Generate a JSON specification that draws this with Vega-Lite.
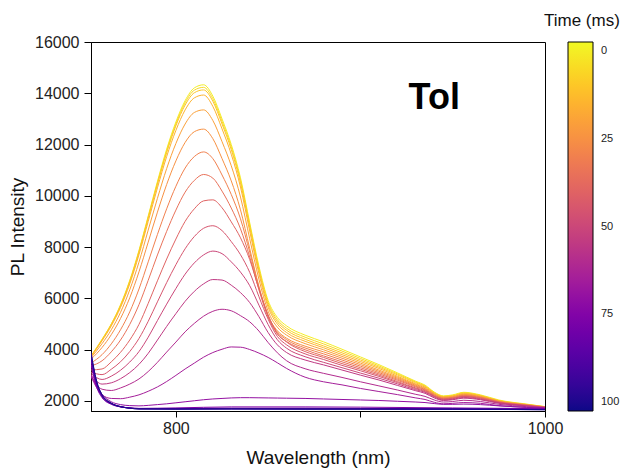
{
"$schema": "https://vega.github.io/schema/vega-lite/v6.json",
"width": 454, "height": 369,
"autosize": {"type": "none"},
"padding": {"left": 91, "top": 42, "right": 82, "bottom": 59},
"background": "white",
"config": {"font": "Liberation Sans", "view": {"stroke": "black", "strokeWidth": 1}},
"datasets": {
"curves": [
{"t":0,"w":754,"v":3750},{"t":0,"w":760,"v":4400},{"t":0,"w":765,"v":5000},{"t":0,"w":770,"v":5750},{"t":0,"w":775,"v":6700},{"t":0,"w":780,"v":7870},{"t":0,"w":785,"v":9210},{"t":0,"w":790,"v":10560},{"t":0,"w":795,"v":11820},{"t":0,"w":800,"v":12880},{"t":0,"w":805,"v":13710},{"t":0,"w":810,"v":14210},{"t":0,"w":815,"v":14330},{"t":0,"w":820,"v":13890},{"t":0,"w":825,"v":13000},{"t":0,"w":830,"v":12000},{"t":0,"w":835,"v":10700},{"t":0,"w":840,"v":8950},{"t":0,"w":845,"v":7250},{"t":0,"w":850,"v":5910},{"t":0,"w":855,"v":5250},{"t":0,"w":860,"v":4920},{"t":0,"w":870,"v":4560},{"t":0,"w":880,"v":4300},{"t":0,"w":890,"v":4010},{"t":0,"w":900,"v":3710},{"t":0,"w":910,"v":3410},{"t":0,"w":920,"v":3090},{"t":0,"w":930,"v":2760},{"t":0,"w":935,"v":2610},{"t":0,"w":940,"v":2340},{"t":0,"w":945,"v":2190},{"t":0,"w":950,"v":2230},{"t":0,"w":956,"v":2330},{"t":0,"w":965,"v":2230},{"t":0,"w":975,"v":2030},{"t":0,"w":990,"v":1870},{"t":0,"w":1000,"v":1770},
{"t":5,"w":754,"v":3740},{"t":5,"w":760,"v":4390},{"t":5,"w":765,"v":4990},{"t":5,"w":770,"v":5720},{"t":5,"w":775,"v":6670},{"t":5,"w":780,"v":7830},{"t":5,"w":785,"v":9170},{"t":5,"w":790,"v":10500},{"t":5,"w":795,"v":11750},{"t":5,"w":800,"v":12800},{"t":5,"w":805,"v":13630},{"t":5,"w":810,"v":14120},{"t":5,"w":815,"v":14230},{"t":5,"w":820,"v":13790},{"t":5,"w":825,"v":12900},{"t":5,"w":830,"v":11900},{"t":5,"w":835,"v":10600},{"t":5,"w":840,"v":8860},{"t":5,"w":845,"v":7160},{"t":5,"w":850,"v":5830},{"t":5,"w":855,"v":5160},{"t":5,"w":860,"v":4830},{"t":5,"w":870,"v":4480},{"t":5,"w":880,"v":4220},{"t":5,"w":890,"v":3940},{"t":5,"w":900,"v":3650},{"t":5,"w":910,"v":3360},{"t":5,"w":920,"v":3050},{"t":5,"w":930,"v":2730},{"t":5,"w":935,"v":2580},{"t":5,"w":940,"v":2320},{"t":5,"w":945,"v":2170},{"t":5,"w":950,"v":2210},{"t":5,"w":956,"v":2310},{"t":5,"w":965,"v":2210},{"t":5,"w":975,"v":2010},{"t":5,"w":990,"v":1860},{"t":5,"w":1000,"v":1770},
{"t":10,"w":754,"v":3730},{"t":10,"w":760,"v":4370},{"t":10,"w":765,"v":4970},{"t":10,"w":770,"v":5700},{"t":10,"w":775,"v":6640},{"t":10,"w":780,"v":7800},{"t":10,"w":785,"v":9120},{"t":10,"w":790,"v":10450},{"t":10,"w":795,"v":11680},{"t":10,"w":800,"v":12730},{"t":10,"w":805,"v":13540},{"t":10,"w":810,"v":14020},{"t":10,"w":815,"v":14130},{"t":10,"w":820,"v":13690},{"t":10,"w":825,"v":12800},{"t":10,"w":830,"v":11800},{"t":10,"w":835,"v":10500},{"t":10,"w":840,"v":8770},{"t":10,"w":845,"v":7080},{"t":10,"w":850,"v":5750},{"t":10,"w":855,"v":5080},{"t":10,"w":860,"v":4750},{"t":10,"w":870,"v":4400},{"t":10,"w":880,"v":4140},{"t":10,"w":890,"v":3870},{"t":10,"w":900,"v":3590},{"t":10,"w":910,"v":3310},{"t":10,"w":920,"v":3010},{"t":10,"w":930,"v":2700},{"t":10,"w":935,"v":2560},{"t":10,"w":940,"v":2300},{"t":10,"w":945,"v":2160},{"t":10,"w":950,"v":2190},{"t":10,"w":956,"v":2290},{"t":10,"w":965,"v":2200},{"t":10,"w":975,"v":2000},{"t":10,"w":990,"v":1850},{"t":10,"w":1000,"v":1760},
{"t":15,"w":754,"v":3730},{"t":15,"w":760,"v":4340},{"t":15,"w":765,"v":4920},{"t":15,"w":770,"v":5640},{"t":15,"w":775,"v":6560},{"t":15,"w":780,"v":7700},{"t":15,"w":785,"v":9000},{"t":15,"w":790,"v":10310},{"t":15,"w":795,"v":11530},{"t":15,"w":800,"v":12550},{"t":15,"w":805,"v":13350},{"t":15,"w":810,"v":13820},{"t":15,"w":815,"v":13930},{"t":15,"w":820,"v":13490},{"t":15,"w":825,"v":12610},{"t":15,"w":830,"v":11620},{"t":15,"w":835,"v":10340},{"t":15,"w":840,"v":8620},{"t":15,"w":845,"v":6960},{"t":15,"w":850,"v":5650},{"t":15,"w":855,"v":4990},{"t":15,"w":860,"v":4660},{"t":15,"w":870,"v":4320},{"t":15,"w":880,"v":4070},{"t":15,"w":890,"v":3800},{"t":15,"w":900,"v":3530},{"t":15,"w":910,"v":3260},{"t":15,"w":920,"v":2960},{"t":15,"w":930,"v":2660},{"t":15,"w":935,"v":2530},{"t":15,"w":940,"v":2280},{"t":15,"w":945,"v":2140},{"t":15,"w":950,"v":2180},{"t":15,"w":956,"v":2270},{"t":15,"w":965,"v":2180},{"t":15,"w":975,"v":1990},{"t":15,"w":990,"v":1850},{"t":15,"w":1000,"v":1760},
{"t":20,"w":754,"v":3680},{"t":20,"w":760,"v":4230},{"t":20,"w":765,"v":4770},{"t":20,"w":770,"v":5450},{"t":20,"w":775,"v":6330},{"t":20,"w":780,"v":7410},{"t":20,"w":785,"v":8660},{"t":20,"w":790,"v":9900},{"t":20,"w":795,"v":11060},{"t":20,"w":800,"v":12040},{"t":20,"w":805,"v":12800},{"t":20,"w":810,"v":13250},{"t":20,"w":815,"v":13350},{"t":20,"w":820,"v":12940},{"t":20,"w":825,"v":12110},{"t":20,"w":830,"v":11170},{"t":20,"w":835,"v":9950},{"t":20,"w":840,"v":8320},{"t":20,"w":845,"v":6740},{"t":20,"w":850,"v":5490},{"t":20,"w":855,"v":4870},{"t":20,"w":860,"v":4560},{"t":20,"w":870,"v":4230},{"t":20,"w":880,"v":3990},{"t":20,"w":890,"v":3730},{"t":20,"w":900,"v":3470},{"t":20,"w":910,"v":3200},{"t":20,"w":920,"v":2920},{"t":20,"w":930,"v":2630},{"t":20,"w":935,"v":2500},{"t":20,"w":940,"v":2260},{"t":20,"w":945,"v":2130},{"t":20,"w":950,"v":2160},{"t":20,"w":956,"v":2250},{"t":20,"w":965,"v":2160},{"t":20,"w":975,"v":1980},{"t":20,"w":990,"v":1840},{"t":20,"w":1000,"v":1760},
{"t":25,"w":754,"v":3620},{"t":25,"w":760,"v":4080},{"t":25,"w":765,"v":4580},{"t":25,"w":770,"v":5210},{"t":25,"w":775,"v":6020},{"t":25,"w":780,"v":7030},{"t":25,"w":785,"v":8190},{"t":25,"w":790,"v":9360},{"t":25,"w":795,"v":10440},{"t":25,"w":800,"v":11360},{"t":25,"w":805,"v":12080},{"t":25,"w":810,"v":12500},{"t":25,"w":815,"v":12600},{"t":25,"w":820,"v":12230},{"t":25,"w":825,"v":11450},{"t":25,"w":830,"v":10580},{"t":25,"w":835,"v":9450},{"t":25,"w":840,"v":7940},{"t":25,"w":845,"v":6460},{"t":25,"w":850,"v":5310},{"t":25,"w":855,"v":4730},{"t":25,"w":860,"v":4440},{"t":25,"w":870,"v":4130},{"t":25,"w":880,"v":3910},{"t":25,"w":890,"v":3660},{"t":25,"w":900,"v":3410},{"t":25,"w":910,"v":3150},{"t":25,"w":920,"v":2880},{"t":25,"w":930,"v":2600},{"t":25,"w":935,"v":2470},{"t":25,"w":940,"v":2240},{"t":25,"w":945,"v":2110},{"t":25,"w":950,"v":2140},{"t":25,"w":956,"v":2230},{"t":25,"w":965,"v":2150},{"t":25,"w":975,"v":1970},{"t":25,"w":990,"v":1840},{"t":25,"w":1000,"v":1750},
{"t":30,"w":754,"v":3470},{"t":30,"w":760,"v":3800},{"t":30,"w":765,"v":4220},{"t":30,"w":770,"v":4770},{"t":30,"w":775,"v":5470},{"t":30,"w":780,"v":6360},{"t":30,"w":785,"v":7420},{"t":30,"w":790,"v":8490},{"t":30,"w":795,"v":9490},{"t":30,"w":800,"v":10370},{"t":30,"w":805,"v":11080},{"t":30,"w":810,"v":11530},{"t":30,"w":815,"v":11710},{"t":30,"w":820,"v":11450},{"t":30,"w":825,"v":10810},{"t":30,"w":830,"v":10050},{"t":30,"w":835,"v":9100},{"t":30,"w":840,"v":7800},{"t":30,"w":845,"v":6420},{"t":30,"w":850,"v":5290},{"t":30,"w":855,"v":4680},{"t":30,"w":860,"v":4380},{"t":30,"w":870,"v":4060},{"t":30,"w":880,"v":3830},{"t":30,"w":890,"v":3590},{"t":30,"w":900,"v":3350},{"t":30,"w":910,"v":3100},{"t":30,"w":920,"v":2840},{"t":30,"w":930,"v":2570},{"t":30,"w":935,"v":2440},{"t":30,"w":940,"v":2220},{"t":30,"w":945,"v":2100},{"t":30,"w":950,"v":2130},{"t":30,"w":956,"v":2210},{"t":30,"w":965,"v":2130},{"t":30,"w":975,"v":1960},{"t":30,"w":990,"v":1830},{"t":30,"w":1000,"v":1750},
{"t":35,"w":754,"v":3360},{"t":35,"w":760,"v":3560},{"t":35,"w":765,"v":3910},{"t":35,"w":770,"v":4370},{"t":35,"w":775,"v":4980},{"t":35,"w":780,"v":5750},{"t":35,"w":785,"v":6700},{"t":35,"w":790,"v":7690},{"t":35,"w":795,"v":8610},{"t":35,"w":800,"v":9440},{"t":35,"w":805,"v":10140},{"t":35,"w":810,"v":10600},{"t":35,"w":815,"v":10830},{"t":35,"w":820,"v":10690},{"t":35,"w":825,"v":10180},{"t":35,"w":830,"v":9520},{"t":35,"w":835,"v":8710},{"t":35,"w":840,"v":7610},{"t":35,"w":845,"v":6330},{"t":35,"w":850,"v":5260},{"t":35,"w":855,"v":4600},{"t":35,"w":860,"v":4310},{"t":35,"w":870,"v":3990},{"t":35,"w":880,"v":3750},{"t":35,"w":890,"v":3520},{"t":35,"w":900,"v":3290},{"t":35,"w":910,"v":3050},{"t":35,"w":920,"v":2800},{"t":35,"w":930,"v":2540},{"t":35,"w":935,"v":2420},{"t":35,"w":940,"v":2200},{"t":35,"w":945,"v":2080},{"t":35,"w":950,"v":2110},{"t":35,"w":956,"v":2190},{"t":35,"w":965,"v":2120},{"t":35,"w":975,"v":1950},{"t":35,"w":990,"v":1820},{"t":35,"w":1000,"v":1750},
{"t":40,"w":754,"v":3200},{"t":40,"w":760,"v":3240},{"t":40,"w":765,"v":3520},{"t":40,"w":770,"v":3890},{"t":40,"w":775,"v":4370},{"t":40,"w":780,"v":4980},{"t":40,"w":785,"v":5800},{"t":40,"w":790,"v":6680},{"t":40,"w":795,"v":7530},{"t":40,"w":800,"v":8310},{"t":40,"w":805,"v":9000},{"t":40,"w":810,"v":9490},{"t":40,"w":815,"v":9800},{"t":40,"w":820,"v":9840},{"t":40,"w":825,"v":9530},{"t":40,"w":830,"v":8980},{"t":40,"w":835,"v":8360},{"t":40,"w":840,"v":7510},{"t":40,"w":845,"v":6360},{"t":40,"w":850,"v":5350},{"t":40,"w":855,"v":4620},{"t":40,"w":860,"v":4290},{"t":40,"w":870,"v":3920},{"t":40,"w":880,"v":3690},{"t":40,"w":890,"v":3450},{"t":40,"w":900,"v":3230},{"t":40,"w":910,"v":3000},{"t":40,"w":920,"v":2750},{"t":40,"w":930,"v":2500},{"t":40,"w":935,"v":2390},{"t":40,"w":940,"v":2180},{"t":40,"w":945,"v":2070},{"t":40,"w":950,"v":2100},{"t":40,"w":956,"v":2170},{"t":40,"w":965,"v":2100},{"t":40,"w":975,"v":1940},{"t":40,"w":990,"v":1820},{"t":40,"w":1000,"v":1740},
{"t":45,"w":754,"v":3120},{"t":45,"w":760,"v":3020},{"t":45,"w":765,"v":3230},{"t":45,"w":770,"v":3520},{"t":45,"w":775,"v":3920},{"t":45,"w":780,"v":4430},{"t":45,"w":785,"v":5100},{"t":45,"w":790,"v":5860},{"t":45,"w":795,"v":6610},{"t":45,"w":800,"v":7310},{"t":45,"w":805,"v":7930},{"t":45,"w":810,"v":8410},{"t":45,"w":815,"v":8730},{"t":45,"w":820,"v":8830},{"t":45,"w":825,"v":8640},{"t":45,"w":830,"v":8210},{"t":45,"w":835,"v":7700},{"t":45,"w":840,"v":7010},{"t":45,"w":845,"v":6060},{"t":45,"w":850,"v":5180},{"t":45,"w":855,"v":4510},{"t":45,"w":860,"v":4180},{"t":45,"w":870,"v":3830},{"t":45,"w":880,"v":3610},{"t":45,"w":890,"v":3380},{"t":45,"w":900,"v":3170},{"t":45,"w":910,"v":2950},{"t":45,"w":920,"v":2710},{"t":45,"w":930,"v":2470},{"t":45,"w":935,"v":2360},{"t":45,"w":940,"v":2170},{"t":45,"w":945,"v":2050},{"t":45,"w":950,"v":2080},{"t":45,"w":956,"v":2160},{"t":45,"w":965,"v":2080},{"t":45,"w":975,"v":1930},{"t":45,"w":990,"v":1810},{"t":45,"w":1000,"v":1740},
{"t":50,"w":754,"v":3060},{"t":50,"w":760,"v":2830},{"t":50,"w":765,"v":2960},{"t":50,"w":770,"v":3190},{"t":50,"w":775,"v":3510},{"t":50,"w":780,"v":3920},{"t":50,"w":785,"v":4480},{"t":50,"w":790,"v":5130},{"t":50,"w":795,"v":5770},{"t":50,"w":800,"v":6380},{"t":50,"w":805,"v":6940},{"t":50,"w":810,"v":7380},{"t":50,"w":815,"v":7690},{"t":50,"w":820,"v":7840},{"t":50,"w":825,"v":7740},{"t":50,"w":830,"v":7420},{"t":50,"w":835,"v":7020},{"t":50,"w":840,"v":6490},{"t":50,"w":845,"v":5730},{"t":50,"w":850,"v":4970},{"t":50,"w":855,"v":4380},{"t":50,"w":860,"v":4050},{"t":50,"w":870,"v":3720},{"t":50,"w":880,"v":3500},{"t":50,"w":890,"v":3290},{"t":50,"w":900,"v":3080},{"t":50,"w":910,"v":2880},{"t":50,"w":920,"v":2660},{"t":50,"w":930,"v":2430},{"t":50,"w":935,"v":2330},{"t":50,"w":940,"v":2140},{"t":50,"w":945,"v":2030},{"t":50,"w":950,"v":2060},{"t":50,"w":956,"v":2130},{"t":50,"w":965,"v":2060},{"t":50,"w":975,"v":1920},{"t":50,"w":990,"v":1800},{"t":50,"w":1000,"v":1740},
{"t":55,"w":754,"v":3020},{"t":55,"w":760,"v":2650},{"t":55,"w":765,"v":2700},{"t":55,"w":770,"v":2860},{"t":55,"w":775,"v":3100},{"t":55,"w":780,"v":3420},{"t":55,"w":785,"v":3850},{"t":55,"w":790,"v":4370},{"t":55,"w":795,"v":4900},{"t":55,"w":800,"v":5400},{"t":55,"w":805,"v":5880},{"t":55,"w":810,"v":6270},{"t":55,"w":815,"v":6560},{"t":55,"w":820,"v":6730},{"t":55,"w":825,"v":6710},{"t":55,"w":830,"v":6510},{"t":55,"w":835,"v":6220},{"t":55,"w":840,"v":5830},{"t":55,"w":845,"v":5280},{"t":55,"w":850,"v":4660},{"t":55,"w":855,"v":4180},{"t":55,"w":860,"v":3880},{"t":55,"w":870,"v":3590},{"t":55,"w":880,"v":3400},{"t":55,"w":890,"v":3200},{"t":55,"w":900,"v":3000},{"t":55,"w":910,"v":2810},{"t":55,"w":920,"v":2600},{"t":55,"w":930,"v":2390},{"t":55,"w":935,"v":2290},{"t":55,"w":940,"v":2110},{"t":55,"w":945,"v":2010},{"t":55,"w":950,"v":2040},{"t":55,"w":956,"v":2100},{"t":55,"w":965,"v":2040},{"t":55,"w":975,"v":1900},{"t":55,"w":990,"v":1800},{"t":55,"w":1000,"v":1730},
{"t":60,"w":754,"v":2980},{"t":60,"w":760,"v":2450},{"t":60,"w":765,"v":2400},{"t":60,"w":770,"v":2500},{"t":60,"w":775,"v":2650},{"t":60,"w":780,"v":2850},{"t":60,"w":785,"v":3140},{"t":60,"w":790,"v":3500},{"t":60,"w":795,"v":3900},{"t":60,"w":800,"v":4290},{"t":60,"w":805,"v":4690},{"t":60,"w":810,"v":5020},{"t":60,"w":815,"v":5300},{"t":60,"w":820,"v":5490},{"t":60,"w":825,"v":5570},{"t":60,"w":830,"v":5510},{"t":60,"w":835,"v":5320},{"t":60,"w":840,"v":5080},{"t":60,"w":845,"v":4720},{"t":60,"w":850,"v":4270},{"t":60,"w":855,"v":3870},{"t":60,"w":860,"v":3560},{"t":60,"w":870,"v":3250},{"t":60,"w":880,"v":3070},{"t":60,"w":890,"v":2910},{"t":60,"w":900,"v":2740},{"t":60,"w":910,"v":2580},{"t":60,"w":920,"v":2420},{"t":60,"w":930,"v":2250},{"t":60,"w":935,"v":2170},{"t":60,"w":940,"v":2030},{"t":60,"w":945,"v":1950},{"t":60,"w":950,"v":1970},{"t":60,"w":956,"v":2020},{"t":60,"w":965,"v":1970},{"t":60,"w":975,"v":1860},{"t":60,"w":990,"v":1770},{"t":60,"w":1000,"v":1720},
{"t":65,"w":754,"v":2940},{"t":65,"w":760,"v":2230},{"t":65,"w":765,"v":2090},{"t":65,"w":770,"v":2080},{"t":65,"w":775,"v":2140},{"t":65,"w":780,"v":2230},{"t":65,"w":785,"v":2370},{"t":65,"w":790,"v":2540},{"t":65,"w":795,"v":2750},{"t":65,"w":800,"v":2990},{"t":65,"w":805,"v":3240},{"t":65,"w":810,"v":3470},{"t":65,"w":815,"v":3700},{"t":65,"w":820,"v":3880},{"t":65,"w":825,"v":4010},{"t":65,"w":830,"v":4100},{"t":65,"w":835,"v":4090},{"t":65,"w":840,"v":4000},{"t":65,"w":845,"v":3860},{"t":65,"w":850,"v":3690},{"t":65,"w":855,"v":3480},{"t":65,"w":860,"v":3260},{"t":65,"w":870,"v":2920},{"t":65,"w":880,"v":2740},{"t":65,"w":890,"v":2620},{"t":65,"w":900,"v":2480},{"t":65,"w":910,"v":2360},{"t":65,"w":920,"v":2240},{"t":65,"w":930,"v":2110},{"t":65,"w":935,"v":2050},{"t":65,"w":940,"v":1940},{"t":65,"w":945,"v":1880},{"t":65,"w":950,"v":1900},{"t":65,"w":956,"v":1930},{"t":65,"w":965,"v":1900},{"t":65,"w":975,"v":1810},{"t":65,"w":990,"v":1740},{"t":65,"w":1000,"v":1700},
{"t":70,"w":754,"v":2990},{"t":70,"w":760,"v":2250},{"t":70,"w":765,"v":1960},{"t":70,"w":770,"v":1850},{"t":70,"w":775,"v":1810},{"t":70,"w":780,"v":1800},{"t":70,"w":785,"v":1820},{"t":70,"w":790,"v":1850},{"t":70,"w":795,"v":1880},{"t":70,"w":800,"v":1920},{"t":70,"w":805,"v":1960},{"t":70,"w":810,"v":2000},{"t":70,"w":815,"v":2040},{"t":70,"w":820,"v":2070},{"t":70,"w":825,"v":2090},{"t":70,"w":830,"v":2110},{"t":70,"w":835,"v":2120},{"t":70,"w":840,"v":2120},{"t":70,"w":845,"v":2115},{"t":70,"w":850,"v":2110},{"t":70,"w":855,"v":2105},{"t":70,"w":860,"v":2100},{"t":70,"w":870,"v":2090},{"t":70,"w":880,"v":2070},{"t":70,"w":890,"v":2050},{"t":70,"w":900,"v":2030},{"t":70,"w":910,"v":2010},{"t":70,"w":920,"v":1980},{"t":70,"w":930,"v":1950},{"t":70,"w":935,"v":1930},{"t":70,"w":940,"v":1890},{"t":70,"w":945,"v":1860},{"t":70,"w":950,"v":1860},{"t":70,"w":956,"v":1870},{"t":70,"w":965,"v":1850},{"t":70,"w":975,"v":1800},{"t":70,"w":990,"v":1740},{"t":70,"w":1000,"v":1710},
{"t":75,"w":754,"v":3400},{"t":75,"w":757,"v":2540},{"t":75,"w":760,"v":2120},{"t":75,"w":765,"v":1860},{"t":75,"w":770,"v":1760},{"t":75,"w":775,"v":1720},{"t":75,"w":780,"v":1700},{"t":75,"w":800,"v":1720},{"t":75,"w":830,"v":1760},{"t":75,"w":870,"v":1760},{"t":75,"w":900,"v":1750},{"t":75,"w":950,"v":1720},{"t":75,"w":1000,"v":1690},
{"t":80,"w":754,"v":3540},{"t":80,"w":757,"v":2610},{"t":80,"w":760,"v":2150},{"t":80,"w":765,"v":1880},{"t":80,"w":770,"v":1760},{"t":80,"w":775,"v":1720},{"t":80,"w":780,"v":1700},{"t":80,"w":800,"v":1700},{"t":80,"w":830,"v":1710},{"t":80,"w":870,"v":1710},{"t":80,"w":900,"v":1700},{"t":80,"w":950,"v":1690},{"t":80,"w":1000,"v":1670},
{"t":85,"w":754,"v":3640},{"t":85,"w":757,"v":2660},{"t":85,"w":760,"v":2180},{"t":85,"w":765,"v":1890},{"t":85,"w":770,"v":1770},{"t":85,"w":775,"v":1720},{"t":85,"w":780,"v":1690},{"t":85,"w":800,"v":1690},{"t":85,"w":830,"v":1690},{"t":85,"w":870,"v":1690},{"t":85,"w":900,"v":1690},{"t":85,"w":950,"v":1680},{"t":85,"w":1000,"v":1660},
{"t":90,"w":754,"v":3740},{"t":90,"w":757,"v":2710},{"t":90,"w":760,"v":2200},{"t":90,"w":765,"v":1890},{"t":90,"w":770,"v":1770},{"t":90,"w":775,"v":1710},{"t":90,"w":780,"v":1690},{"t":90,"w":800,"v":1680},{"t":90,"w":830,"v":1690},{"t":90,"w":870,"v":1680},{"t":90,"w":900,"v":1680},{"t":90,"w":950,"v":1680},{"t":90,"w":1000,"v":1660},
{"t":95,"w":754,"v":3830},{"t":95,"w":757,"v":2760},{"t":95,"w":760,"v":2220},{"t":95,"w":765,"v":1900},{"t":95,"w":770,"v":1770},{"t":95,"w":775,"v":1710},{"t":95,"w":780,"v":1680},{"t":95,"w":800,"v":1680},{"t":95,"w":830,"v":1680},{"t":95,"w":870,"v":1680},{"t":95,"w":900,"v":1680},{"t":95,"w":950,"v":1670},{"t":95,"w":1000,"v":1650},
{"t":100,"w":754,"v":3900},{"t":100,"w":757,"v":2790},{"t":100,"w":760,"v":2240},{"t":100,"w":765,"v":1910},{"t":100,"w":770,"v":1770},{"t":100,"w":775,"v":1710},{"t":100,"w":780,"v":1680},{"t":100,"w":800,"v":1670},{"t":100,"w":830,"v":1680},{"t":100,"w":870,"v":1670},{"t":100,"w":900,"v":1670},{"t":100,"w":950,"v":1670},{"t":100,"w":1000,"v":1650}
],
"labels": [{"label": "Tol"}],
"legendtitle": [{"label": "Time (ms)"}]
},
"layer": [
{
"data": {"name": "curves"},
"mark": {"type": "line", "strokeWidth": 1, "clip": true, "interpolate": "monotone"},
"encoding": {
"x": {"field": "w", "type": "quantitative",
"scale": {"domain": [754, 1000], "nice": false, "zero": false},
"axis": {"title": "Wavelength (nm)", "values": [800, 900, 1000], "format": "d",
"labelExpr": "datum.value == 900 ? '' : datum.label", "labelFlush": false,
"grid": false, "tickSize": 6, "tickColor": "black", "domainColor": "black",
"labelFontSize": 16, "labelColor": "#222", "labelPadding": 3,
"titleFontSize": 19, "titleFontWeight": "normal", "titleColor": "#111", "titlePadding": 12}},
"y": {"field": "v", "type": "quantitative",
"scale": {"domain": [1600, 16000], "nice": false, "zero": false},
"axis": {"title": "PL Intensity", "values": [2000, 3000, 4000, 5000, 6000, 7000, 8000, 9000, 10000, 11000, 12000, 13000, 14000, 15000, 16000],
"format": "d", "labelExpr": "datum.value % 2000 == 0 ? datum.label : ''",
"grid": false, "tickSize": {"condition": {"test": "datum.value % 2000 == 0", "value": 7}, "value": 3},
"tickColor": "black", "domainColor": "black",
"labelFontSize": 16, "labelColor": "#222", "labelPadding": 5,
"titleFontSize": 19, "titleFontWeight": "normal", "titleColor": "#111", "titlePadding": 7}},
"color": {"field": "t", "type": "quantitative",
"scale": {"domain": [102.5, -2.5], "scheme": "plasma"},
"legend": {"type": "gradient", "orient": "none", "legendX": 477, "legendY": 0, "direction": "vertical",
"gradientLength": 369, "gradientThickness": 25, "title": null,
"values": [0, 25, 50, 75, 100], "labelFontSize": 11, "labelColor": "#222", "labelOffset": 8,
"gradientStrokeColor": "black", "gradientStrokeWidth": 1}},
"detail": {"field": "t", "type": "nominal"}
}
},
{
"data": {"name": "labels"},
"mark": {"type": "text", "fontSize": 36, "fontWeight": "bold", "align": "center", "baseline": "alphabetic", "color": "black"},
"encoding": {
"x": {"datum": 940, "type": "quantitative"},
"y": {"datum": 13400, "type": "quantitative"},
"text": {"field": "label"}
}
},
{
"data": {"name": "legendtitle"},
"mark": {"type": "text", "fontSize": 17, "align": "center", "baseline": "alphabetic", "color": "#111", "clip": false},
"encoding": {
"x": {"datum": 1020, "type": "quantitative"},
"y": {"datum": 16620, "type": "quantitative"},
"text": {"field": "label"}
}
}
]
}
